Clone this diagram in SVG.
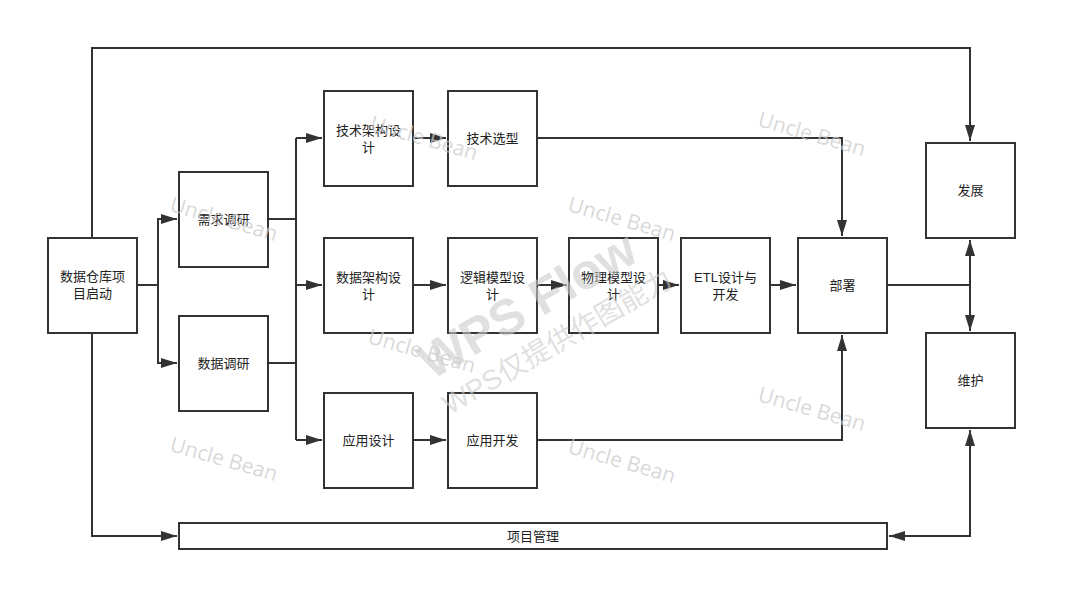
<svg xmlns="http://www.w3.org/2000/svg" width="1077" height="611" viewBox="0 0 1077 611">
<style>
.box{fill:#fff;stroke:#333;stroke-width:2}
.lbl{font-family:"Liberation Sans","Noto Sans CJK SC",sans-serif;font-size:13px;fill:#222;text-anchor:middle}
.wm{font-family:"Open Sans","Liberation Sans",sans-serif;font-size:21px;fill:#ccc;fill-opacity:0.75;text-anchor:middle}
.wp{font-family:"Liberation Sans","Noto Sans CJK SC",sans-serif;fill:#ccc;fill-opacity:0.6;text-anchor:middle}
.c{fill:none;stroke:#333;stroke-width:2}
</style>
<defs>
<marker id="ah" viewBox="0 0 16 10" refX="16" refY="5" markerWidth="16" markerHeight="10" markerUnits="userSpaceOnUse" orient="auto-start-reverse">
<path d="M0,0 L16,5 L0,10 z" fill="#333"/>
</marker>
</defs>
<rect width="1077" height="611" fill="#fff"/>
<g id="connectors">
<path class="c" d="M92,238 V48 H970 V141" marker-end="url(#ah)"/>
<path class="c" d="M92,333 V536 H177" marker-end="url(#ah)"/>
<path class="c" d="M137,285 H158 V219 H177" marker-end="url(#ah)"/>
<path class="c" d="M158,285 V363 H177" marker-end="url(#ah)"/>
<path class="c" d="M268,219 H296 M268,363 H296 M296,138 V440"/>
<path class="c" d="M296,138 H322" marker-end="url(#ah)"/>
<path class="c" d="M296,285 H322" marker-end="url(#ah)"/>
<path class="c" d="M296,440 H322" marker-end="url(#ah)"/>
<path class="c" d="M413,138 H446" marker-end="url(#ah)"/>
<path class="c" d="M537,138 H842 V236" marker-end="url(#ah)"/>
<path class="c" d="M413,285 H446" marker-end="url(#ah)"/>
<path class="c" d="M537,285 H567" marker-end="url(#ah)"/>
<path class="c" d="M658,285 H679" marker-end="url(#ah)"/>
<path class="c" d="M770,285 H796" marker-end="url(#ah)"/>
<path class="c" d="M413,440 H446" marker-end="url(#ah)"/>
<path class="c" d="M537,440 H842 V335" marker-end="url(#ah)"/>
<path class="c" d="M887,285 H970"/>
<path class="c" d="M970,285 V240" marker-end="url(#ah)"/>
<path class="c" d="M970,285 V331" marker-end="url(#ah)"/>
<path class="c" d="M889,536 H970 V430" marker-start="url(#ah)" marker-end="url(#ah)"/>
</g>
<g id="n-start"><rect class="box" x="48" y="238" width="89" height="95"/><text class="lbl" x="92.5" y="281">数据仓库项</text><text class="lbl" x="92.5" y="298">目启动</text></g>
<g id="n-req"><rect class="box" x="179" y="172" width="89" height="95"/><text class="lbl" x="223.5" y="224">需求调研</text></g>
<g id="n-data"><rect class="box" x="179" y="316" width="89" height="95"/><text class="lbl" x="223.5" y="368">数据调研</text></g>
<g id="n-techarch"><rect class="box" x="324" y="91" width="89" height="95"/><text class="lbl" x="368.5" y="135">技术架构设</text><text class="lbl" x="368.5" y="152">计</text></g>
<g id="n-techsel"><rect class="box" x="448" y="91" width="89" height="95"/><text class="lbl" x="492.5" y="143">技术选型</text></g>
<g id="n-dataarch"><rect class="box" x="324" y="238" width="89" height="95"/><text class="lbl" x="368.5" y="282">数据架构设</text><text class="lbl" x="368.5" y="299">计</text></g>
<g id="n-logic"><rect class="box" x="448" y="238" width="89" height="95"/><text class="lbl" x="492.5" y="282">逻辑模型设</text><text class="lbl" x="492.5" y="299">计</text></g>
<g id="n-phys"><rect class="box" x="569" y="238" width="89" height="95"/><text class="lbl" x="613.5" y="282">物理模型设</text><text class="lbl" x="613.5" y="299">计</text></g>
<g id="n-etl"><rect class="box" x="681" y="238" width="89" height="95"/><text class="lbl" x="725.5" y="282">ETL设计与</text><text class="lbl" x="725.5" y="299">开发</text></g>
<g id="n-deploy"><rect class="box" x="798" y="238" width="89" height="95"/><text class="lbl" x="842.5" y="290">部署</text></g>
<g id="n-appdesign"><rect class="box" x="324" y="393" width="89" height="95"/><text class="lbl" x="368.5" y="445">应用设计</text></g>
<g id="n-appdev"><rect class="box" x="448" y="393" width="89" height="95"/><text class="lbl" x="492.5" y="445">应用开发</text></g>
<g id="n-grow"><rect class="box" x="926" y="143" width="89" height="95"/><text class="lbl" x="970.5" y="195">发展</text></g>
<g id="n-maint"><rect class="box" x="926" y="333" width="89" height="95"/><text class="lbl" x="970.5" y="385">维护</text></g>
<g id="n-pm"><rect class="box" x="179" y="523" width="708" height="26"/><text class="lbl" x="533" y="541">项目管理</text></g>
<g id="watermarks">
<text class="wm" transform="translate(222,226) rotate(16)">Uncle Bean</text>
<text class="wm" transform="translate(422,145) rotate(16)">Uncle Bean</text>
<text class="wm" transform="translate(620,226) rotate(16)">Uncle Bean</text>
<text class="wm" transform="translate(810,141) rotate(16)">Uncle Bean</text>
<text class="wm" transform="translate(420,358) rotate(16)">Uncle Bean</text>
<text class="wm" transform="translate(222,466) rotate(16)">Uncle Bean</text>
<text class="wm" transform="translate(810,416) rotate(16)">Uncle Bean</text>
<text class="wm" transform="translate(620,468) rotate(16)">Uncle Bean</text>
<text class="wp" font-size="50" font-weight="bold" transform="translate(536,320) rotate(-30)">WPS Flow</text>
<text class="wp" font-size="28" transform="translate(562,350) rotate(-30)">WPS仅提供作图能力</text>
</g>
</svg>
